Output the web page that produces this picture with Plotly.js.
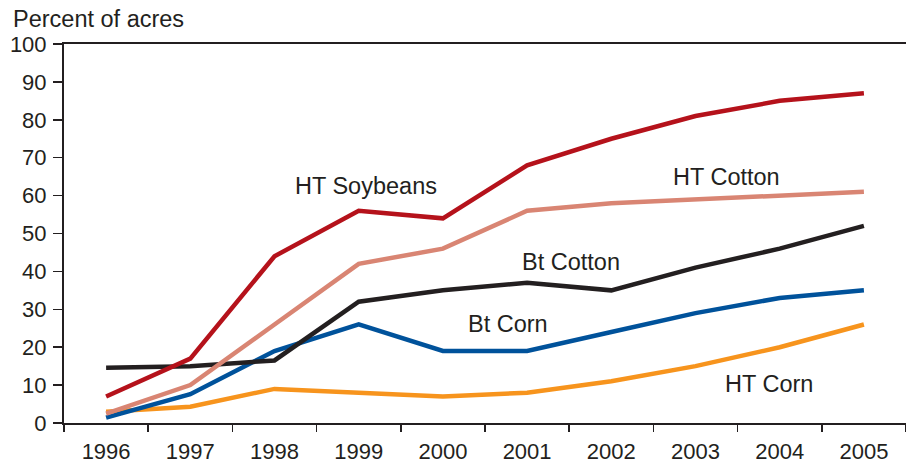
<!DOCTYPE html>
<html><head><meta charset="utf-8">
<script src="https://cdn.plot.ly/plotly-3.0.1.min.js"></script>
<style>html,body{margin:0;padding:0;background:#fff;}#chart{width:906px;height:464px;}</style>
</head><body><div id="chart"></div>
<script>
const years = ['1996','1997','1998','1999','2000','2001','2002','2003','2004','2005'];
const htSoybeans = [7, 17, 44, 56, 54, 68, 75, 81, 85, 87];
const htCotton   = [2.5, 10, 26, 42, 46, 56, 58, 59, 60, 61];
const btCotton   = [14.6, 15, 16.5, 32, 35, 37, 35, 41, 46, 52];
const btCorn     = [1.4, 7.6, 19, 26, 19, 19, 24, 29, 33, 35];
const htCorn     = [3, 4.3, 9, 8, 7, 8, 11, 15, 20, 26];
const yTicks = [0,10,20,30,40,50,60,70,80,90,100];

const series = [
  {name:'HT Corn', y: htCorn, color:'#f7941d'},
  {name:'Bt Corn', y: btCorn, color:'#00529b'},
  {name:'Bt Cotton', y: btCotton, color:'#231f20'},
  {name:'HT Cotton', y: htCotton, color:'#d98573'},
  {name:'HT Soybeans', y: htSoybeans, color:'#b5121b'}
];
const traces = series.map(s => ({
  type:'scatter', mode:'lines', x: years, y: s.y, name: s.name,
  line:{color:s.color, width:4.5}, showlegend:false, hoverinfo:'skip'
}));

const font = {family:'"Liberation Sans", Arial, Helvetica, sans-serif', color:'#231f20'};
const labels = [
  {text:'HT Soybeans', x:3.09, y:62.5},
  {text:'HT Cotton', x:7.37, y:64.9},
  {text:'Bt Cotton', x:5.52, y:42.5},
  {text:'Bt Corn', x:4.77, y:26.1},
  {text:'HT Corn', x:7.87, y:10.3}
];
const annotations = labels.map(l => ({
  text:l.text, x:l.x, y:l.y, xref:'x', yref:'y', showarrow:false,
  xanchor:'center', yanchor:'middle', font:Object.assign({size:23.5}, font)
}));
annotations.push({
  text:'Percent of acres', xref:'paper', yref:'paper', x:0, y:1,
  xshift:-53, yshift:10, xanchor:'left', yanchor:'bottom', showarrow:false,
  font:Object.assign({size:23.5}, font)
});

const layout = {
  width:906, height:464,
  margin:{l:64, r:0, t:44, b:41},
  paper_bgcolor:'#fff', plot_bgcolor:'#fff',
  font:Object.assign({size:22}, font),
  xaxis:{
    type:'category', range:[-0.5, 9.5],
    showline:true, linecolor:'#231f20', linewidth:2, mirror:true,
    ticks:'outside', tickson:'boundaries', ticklen:7, tickwidth:1.5, tickcolor:'#231f20',
    showgrid:false, zeroline:false, ticklabelstandoff:8,
    tickfont:Object.assign({size:22}, font)
  },
  yaxis:{
    range:[0,100], tickvals:yTicks, ticktext:yTicks.map(String),
    showline:true, linecolor:'#231f20', linewidth:2,
    ticks:'outside', ticklen:9, tickwidth:1.5, tickcolor:'#231f20',
    showgrid:false, zeroline:false, ticklabelstandoff:2,
    tickfont:Object.assign({size:22}, font)
  },
  annotations: annotations
};
Plotly.newPlot('chart', traces, layout, {staticPlot:true, displayModeBar:false});
</script></body></html>
